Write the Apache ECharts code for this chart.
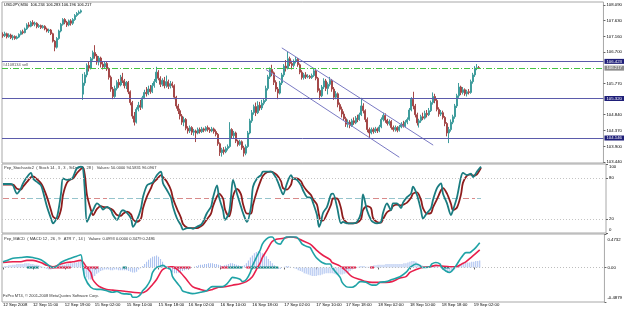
<!DOCTYPE html>
<html><head><meta charset="utf-8">
<script src="https://cdn.jsdelivr.net/npm/echarts@6/dist/echarts.min.js"></script>
<style>html,body{margin:0;padding:0;background:#fff}#c{width:625px;height:310px}</style>
</head><body><div id="c"></div>
<script>
// ---------------- DATA ----------------
const slotCount = 302; // time slots across the plot width (bars + empty right margin)
const timeTickIdx = [0,15,31,46,62,78,93,109,125,141,157,172,188,204,220,236];
const timeTickLabels = ["12 Sep 2008","12 Sep 11:00","12 Sep 19:00","15 Sep 02:00","15 Sep 10:00","15 Sep 18:00","16 Sep 02:00","16 Sep 10:00","16 Sep 18:00","17 Sep 02:00","17 Sep 10:00","17 Sep 18:00","18 Sep 02:00","18 Sep 10:00","18 Sep 18:00","19 Sep 02:00"];
const priceTicks = [108.090,107.630,107.160,106.700,105.770,104.840,104.370,103.900,103.440];
const levelLines = [106.423,105.320,104.146];
const bidPrice = 106.217;
const stochTicks = [0,20,80,100];
const macdTicks = [-0.4879,0,0.4732];
// [open, close, low, high]
const ohlc = [
[107.22,107.18,107.12,107.28],[107.18,107.24,107.14,107.30],[107.24,107.15,107.10,107.27],[107.15,107.20,107.12,107.25],[107.20,107.12,107.08,107.24],
[107.12,107.16,107.05,107.21],[107.16,107.10,107.06,107.19],[107.10,107.14,107.07,107.18],[107.14,107.22,107.11,107.25],[107.22,107.30,107.19,107.34],
[107.30,107.27,107.22,107.36],[107.27,107.38,107.25,107.42],[107.38,107.50,107.35,107.55],[107.50,107.46,107.42,107.58],[107.46,107.57,107.43,107.62],
[107.57,107.52,107.47,107.64],[107.52,107.55,107.46,107.60],[107.55,107.45,107.40,107.58],[107.45,107.48,107.41,107.53],[107.48,107.42,107.38,107.51],
[107.42,107.46,107.39,107.50],[107.46,107.38,107.34,107.49],[107.38,107.32,107.28,107.42],[107.32,107.35,107.26,107.39],[107.35,107.24,107.20,107.38],
[107.24,107.02,106.98,107.27],[107.02,106.84,106.72,107.05],[106.84,107.10,106.80,107.14],[107.10,107.32,107.06,107.36],[107.32,107.52,107.28,107.56],
[107.52,107.66,107.48,107.70],[107.66,107.58,107.52,107.70],[107.58,107.50,107.44,107.62],[107.50,107.62,107.46,107.66],[107.62,107.55,107.48,107.67],
[107.55,107.66,107.50,107.70],[107.66,107.78,107.62,107.82],[107.78,107.84,107.74,107.88],[107.84,107.88,107.80,107.93],[107.88,107.92,107.84,107.96],
[105.45,105.78,105.28,106.05],[105.78,106.02,105.70,106.10],[106.02,106.30,105.95,106.36],[106.30,106.22,106.12,106.42],[106.22,106.50,106.18,106.55],
[106.50,106.68,106.44,106.74],[106.68,106.58,106.50,106.90],[106.58,106.40,106.32,106.64],[106.40,106.52,106.30,106.58],[106.52,106.34,106.24,106.56],
[106.34,106.26,106.18,106.40],[106.26,106.36,106.20,106.42],[106.36,106.20,106.14,106.40],[106.20,105.95,105.88,106.24],[105.95,105.60,105.52,106.00],
[105.60,105.38,105.30,105.66],[105.38,105.62,105.34,105.70],[105.62,105.80,105.56,105.86],[105.80,105.72,105.64,105.90],[105.72,105.95,105.68,106.02],
[105.95,105.85,105.78,106.08],[105.85,105.70,105.62,105.90],[105.70,105.80,105.60,105.84],[105.80,105.52,105.45,105.84],[105.52,105.20,105.12,105.56],
[105.20,104.80,104.72,105.25],[104.80,104.62,104.52,104.92],[104.62,105.00,104.58,105.06],[105.00,105.12,104.94,105.22],[105.12,105.06,104.98,105.28],
[105.06,105.34,105.02,105.40],[105.34,105.50,105.30,105.58],[105.50,105.46,105.38,105.66],[105.46,105.60,105.42,105.70],[105.60,105.52,105.46,105.72],
[105.52,105.70,105.48,105.78],[105.70,105.82,105.64,105.90],[105.82,106.10,105.78,106.26],[106.10,105.92,105.86,106.16],[105.92,105.74,105.66,105.98],
[105.74,105.86,105.68,105.92],[105.86,105.70,105.62,105.96],[105.70,105.82,105.64,106.00],[105.82,105.68,105.60,105.88],[105.68,105.76,105.62,105.84],
[105.76,105.70,105.64,105.82],[105.70,105.36,105.30,105.74],[105.36,105.10,105.02,105.40],[105.10,104.96,104.86,105.16],[104.96,104.80,104.70,105.02],
[104.80,104.62,104.54,104.86],[104.62,104.70,104.50,104.78],[104.70,104.44,104.38,104.74],[104.44,104.36,104.28,104.50],[104.36,104.46,104.30,104.52],
[104.46,104.32,104.24,104.50],[104.32,104.36,104.22,104.42],[104.36,104.30,104.03,104.40],[104.30,104.40,104.26,104.46],[104.40,104.34,104.28,104.46],
[104.34,104.42,104.30,104.48],[104.42,104.38,104.32,104.46],[104.38,104.46,104.34,104.50],[104.46,104.40,104.34,104.52],[104.40,104.36,104.30,104.46],
[104.36,104.42,104.32,104.48],[104.42,104.34,104.28,104.46],[104.34,104.26,104.20,104.40],[104.26,103.98,103.92,104.30],[103.98,103.72,103.62,104.02],
[103.72,103.80,103.60,103.86],[103.80,103.74,103.66,103.88],[103.74,103.84,103.70,103.90],[103.84,103.90,103.78,103.96],[103.90,104.40,103.86,104.62],
[104.40,104.22,104.14,104.44],[104.22,104.30,104.12,104.36],[104.30,104.06,104.00,104.34],[104.06,103.96,103.90,104.10],[103.96,104.04,103.92,104.10],
[104.04,103.86,103.80,104.08],[103.86,103.70,103.60,103.92],[103.70,103.90,103.64,103.96],[103.90,104.30,103.86,104.36],[104.30,104.66,104.26,104.72],
[104.66,104.90,104.60,104.98],[104.90,105.08,104.84,105.14],[105.08,104.90,104.80,105.20],[104.90,105.12,104.86,105.24],[105.12,105.04,104.96,105.22],
[105.04,105.18,104.98,105.28],[105.18,105.26,105.12,105.32],[105.26,105.62,105.22,105.70],[105.62,105.96,105.56,106.02],[105.96,106.18,105.90,106.24],
[106.18,106.08,105.98,106.32],[106.08,105.80,105.72,106.12],[105.80,105.60,105.52,105.86],[105.60,105.48,105.30,105.66],[105.48,105.78,105.44,105.84],
[105.78,106.02,105.72,106.08],[106.02,106.28,105.96,106.34],[106.28,106.22,106.12,106.46],[106.22,106.50,106.18,106.70],[106.50,106.36,106.28,106.56],
[106.36,106.30,106.18,106.44],[106.30,106.42,106.24,106.48],[106.42,106.48,106.36,106.55],[106.48,106.32,106.26,106.52],[106.32,106.10,106.04,106.36],
[106.10,105.94,105.88,106.16],[105.94,106.02,105.88,106.08],[106.02,105.96,105.90,106.10],[105.96,105.98,105.92,106.04],[105.98,105.94,105.90,106.02],
[105.94,106.00,105.90,106.06],[106.00,106.14,105.96,106.22],[106.14,105.92,105.86,106.18],[105.92,105.56,105.50,105.96],[105.56,105.40,105.28,105.62],
[105.40,105.66,105.36,105.72],[105.66,105.84,105.60,105.92],[105.84,105.62,105.54,105.90],[105.62,105.74,105.44,105.80],[105.74,105.86,105.68,105.96],
[105.86,105.60,105.52,105.90],[105.60,105.36,105.28,105.66],[105.36,105.46,105.30,105.54],[105.46,105.14,105.06,105.50],[105.14,105.00,104.94,105.20],
[105.00,104.86,104.76,105.08],[104.86,104.72,104.66,104.94],[104.72,104.56,104.48,104.78],[104.56,104.62,104.46,104.70],[104.62,104.52,104.44,104.68],
[104.52,104.66,104.48,104.72],[104.66,104.60,104.54,104.76],[104.60,104.74,104.56,104.80],[104.74,104.70,104.62,104.84],[104.70,104.84,104.66,104.90],
[104.84,105.10,104.80,105.34],[105.10,104.96,104.88,105.18],[104.96,104.70,104.62,105.00],[104.70,104.40,104.32,104.76],[104.40,104.30,104.15,104.46],
[104.30,104.40,104.26,104.46],[104.40,104.34,104.28,104.46],[104.34,104.42,104.30,104.48],[104.42,104.36,104.30,104.46],[104.36,104.48,104.32,104.54],
[104.48,104.70,104.44,104.76],[104.70,104.82,104.64,104.90],[104.82,104.68,104.60,104.88],[104.68,104.58,104.52,104.72],[104.58,104.64,104.52,104.70],
[104.64,104.46,104.40,104.68],[104.46,104.40,104.34,104.52],[104.40,104.46,104.34,104.52],[104.46,104.38,104.32,104.50],[104.38,104.48,104.34,104.54],
[104.48,104.56,104.44,104.62],[104.56,104.50,104.46,104.66],[104.50,104.62,104.46,104.68],[104.62,104.70,104.56,104.76],[104.70,104.98,104.66,105.04],
[104.98,105.30,104.94,105.36],[105.30,105.10,105.00,105.52],[105.10,104.84,104.76,105.16],[104.84,104.60,104.52,104.90],[104.60,104.66,104.46,104.72],
[104.66,104.78,104.60,104.84],[104.78,104.74,104.68,104.90],[104.74,104.88,104.70,104.96],[104.88,104.84,104.76,104.98],[104.84,104.96,104.80,105.04],
[104.96,105.20,104.92,105.26],[105.20,105.38,105.14,105.50],[105.38,105.26,105.18,105.46],[105.26,105.00,104.94,105.32],[105.00,104.86,104.78,105.06],
[104.86,104.90,104.80,104.98],[104.90,104.76,104.70,104.96],[104.76,104.58,104.50,104.80],[104.58,104.30,104.20,104.62],[104.30,104.40,104.00,104.48],
[104.40,104.62,104.34,104.70],[104.62,104.78,104.56,104.84],[104.78,105.10,104.72,105.16],[105.10,105.40,105.04,105.46],[105.40,105.66,105.34,105.78],
[105.66,105.50,105.42,105.70],[105.50,105.58,105.44,105.66],[105.58,105.46,105.40,105.62],[105.46,105.52,105.38,105.58],[105.52,105.50,105.44,105.60],
[105.50,105.82,105.46,105.88],[105.82,106.02,105.76,106.08],[106.02,106.22,105.96,106.28],[106.22,106.234,106.16,106.34],[106.234,106.217,106.196,106.283]
];
// channel lines [barIndex, price]
const channelUpper = [[140,106.82],[216,103.94]];
const channelLower = [[132,106.18],[199,103.58]];
// stochastic [barIndex, value]
const stochMain = [[0,71],[4,71],[5,69],[7,57],[9,65],[10,72],[12,81],[14,87],[15,79],[17,74],[19,69],[20,60],[22,38],[24,21],[25,14],[27,23],[29,57],[30,79],[32,77],[34,78],[35,81],[37,94],[39,96],[40,94],[41,57],[42,16],[44,29],[45,33],[47,43],[49,38],[50,34],[52,38],[54,33],[55,26],[57,19],[59,31],[60,33],[62,29],[64,21],[65,9],[67,19],[69,36],[70,52],[72,69],[74,72],[75,74],[77,84],[79,89],[80,72],[82,62],[84,51],[85,38],[87,21],[89,11],[90,5],[92,7],[94,7],[95,6],[97,9],[99,12],[100,16],[102,29],[104,38],[105,51],[107,69],[108,52],[110,33],[111,19],[113,29],[114,52],[115,77],[117,57],[119,38],[120,29],[122,16],[124,38],[125,67],[127,79],[129,84],[130,89],[132,89],[134,89],[135,87],[137,77],[139,62],[140,56],[142,72],[144,84],[145,79],[147,77],[149,69],[150,62],[152,52],[154,51],[155,44],[157,26],[158,9],[159,16],[160,29],[162,38],[164,56],[165,57],[167,38],[169,14],[170,16],[172,14],[174,14],[175,14],[177,16],[179,29],[180,56],[182,33],[184,19],[185,16],[187,14],[189,16],[190,29],[192,43],[194,33],[195,43],[197,43],[199,36],[200,44],[202,52],[204,57],[205,67],[207,55],[209,33],[210,21],[212,29],[214,36],[215,48],[217,65],[219,72],[220,57],[222,43],[224,26],[225,33],[227,52],[229,81],[230,87],[232,84],[234,86],[235,81],[237,89],[239,96.1]];
const stochSignal = [[0,70],[4,70],[5,70],[7,64],[9,63],[10,67],[12,74],[14,81],[15,82],[17,78],[19,72],[20,67],[22,52],[24,33],[25,24],[27,20],[29,34],[30,55],[32,73],[34,78],[35,79],[37,87],[39,93],[40,95],[41,82],[42,55],[44,33],[45,26],[47,35],[49,39],[50,38],[52,37],[54,35],[55,33],[57,26],[59,25],[60,28],[62,31],[64,27],[65,20],[67,16],[69,21],[70,36],[72,53],[74,65],[75,72],[77,78],[79,84],[80,81],[82,74],[84,62],[85,50],[87,35],[89,22],[90,13],[92,8],[94,7],[95,7],[97,7],[99,10],[100,12],[102,20],[104,28],[105,39],[107,53],[108,57],[110,50],[111,34],[113,24],[114,33],[115,53],[117,64],[119,56],[120,42],[122,28],[124,28],[125,41],[127,61],[129,77],[130,83],[132,88],[134,89],[135,88],[137,84],[139,75],[140,65],[142,63],[144,70],[145,79],[147,79],[149,75],[150,69],[152,61],[154,55],[155,49],[157,41],[158,26],[159,18],[160,18],[162,28],[164,41],[165,50],[167,50],[169,36],[170,22],[172,15],[174,14],[175,14],[177,15],[179,20],[180,33],[182,39],[184,36],[185,22],[187,16],[189,15],[190,20],[192,30],[194,34],[195,39],[197,41],[199,40],[200,41],[202,44],[204,51],[205,57],[207,59],[209,48],[210,36],[212,28],[214,29],[215,37],[217,49],[219,62],[220,65],[222,57],[224,42],[225,33],[227,37],[229,56],[230,73],[232,83],[234,85],[235,83],[237,85],[239,94.6]];
// stochastic 50-level coloured segments [fromBar, toBar]
const stochMidRed = [[0,11],[41,52],[87,103],[136,148],[185,192],[230,236]];
const stochMidTeal = [[12,40],[53,86],[104,135],[149,184],[193,229],[237,239]];
// MACD [barIndex, value]
const macdMain = [[0,0.08],[2,0.10],[5,0.13],[9,0.14],[12,0.15],[15,0.14],[19,0.11],[22,0.05],[25,0.0],[27,0.02],[29,0.07],[32,0.11],[35,0.14],[37,0.16],[39,0.18],[40,0.02],[41,-0.14],[44,-0.28],[47,-0.31],[49,-0.31],[52,-0.33],[55,-0.35],[57,-0.34],[60,-0.37],[64,-0.38],[65,-0.42],[67,-0.42],[69,-0.38],[70,-0.33],[72,-0.27],[74,-0.17],[75,-0.07],[77,0.0],[79,0.02],[80,0.03],[82,0.0],[84,-0.03],[85,-0.13],[87,-0.21],[89,-0.28],[90,-0.33],[92,-0.35],[95,-0.37],[99,-0.35],[102,-0.33],[104,-0.28],[105,-0.27],[107,-0.27],[110,-0.27],[112,-0.24],[114,-0.17],[115,-0.14],[117,-0.15],[119,-0.17],[120,-0.20],[122,-0.17],[124,-0.07],[125,0.02],[127,0.14],[129,0.25],[130,0.33],[132,0.40],[134,0.43],[135,0.43],[137,0.35],[139,0.33],[140,0.37],[142,0.43],[144,0.43],[145,0.43],[147,0.43],[149,0.37],[150,0.33],[152,0.30],[154,0.28],[155,0.23],[157,0.14],[159,0.09],[160,0.07],[162,0.05],[164,0.05],[165,0.0],[167,-0.07],[169,-0.14],[170,-0.21],[172,-0.27],[174,-0.28],[175,-0.28],[177,-0.25],[179,-0.20],[180,-0.20],[182,-0.21],[184,-0.24],[185,-0.25],[187,-0.25],[189,-0.21],[192,-0.20],[195,-0.17],[199,-0.13],[202,-0.07],[204,0.0],[205,0.02],[207,0.05],[209,0.03],[210,0.0],[212,0.0],[214,0.01],[215,0.05],[217,0.07],[219,0.05],[220,0.0],[222,-0.05],[224,-0.07],[225,-0.05],[227,0.02],[229,0.11],[230,0.15],[232,0.21],[234,0.21],[235,0.23],[237,0.28],[239,0.348]];
const macdSignal = [[0,0.07],[5,0.08],[9,0.08],[12,0.10],[15,0.10],[19,0.07],[22,0.03],[25,0.01],[29,0.05],[32,0.07],[35,0.08],[39,0.10],[40,0.08],[42,0.0],[44,-0.07],[45,-0.17],[47,-0.24],[49,-0.28],[52,-0.31],[55,-0.32],[59,-0.33],[62,-0.34],[65,-0.35],[69,-0.36],[72,-0.33],[75,-0.24],[77,-0.17],[79,-0.07],[80,-0.03],[82,0.0],[84,0.01],[85,0.01],[87,-0.02],[89,-0.07],[92,-0.17],[95,-0.27],[99,-0.31],[102,-0.33],[105,-0.31],[108,-0.28],[112,-0.27],[115,-0.25],[119,-0.23],[122,-0.20],[125,-0.13],[127,-0.03],[129,0.07],[130,0.14],[132,0.23],[134,0.33],[135,0.37],[137,0.40],[140,0.41],[144,0.43],[147,0.42],[150,0.38],[154,0.33],[157,0.25],[160,0.18],[164,0.11],[165,0.07],[169,0.02],[172,-0.05],[175,-0.13],[179,-0.17],[182,-0.20],[185,-0.21],[189,-0.21],[192,-0.21],[195,-0.20],[199,-0.15],[202,-0.13],[204,-0.07],[207,-0.03],[210,0.0],[214,0.01],[217,0.03],[220,0.02],[224,0.01],[227,0.01],[230,0.05],[232,0.08],[235,0.15],[239,0.249]];
const macdHist = [
0.01,0.02,0.02,0.03,0.03,0.04,0.04,0.05,0.05,0.05, 0.05,0.06,0.06,0.06,0.05,0.05,0.04,0.04,0.03,0.02,
0.01,-0.01,-0.02,-0.03,-0.03,-0.02,-0.01,0.01,0.02,0.03, 0.04,0.04,0.05,0.05,0.06,0.06,0.07,0.07,0.08,0.08,
-0.04,-0.10,-0.14,-0.17,-0.17,-0.15,-0.12,-0.09,-0.07,-0.05, -0.04,-0.03,-0.03,-0.03,-0.04,-0.04,-0.03,-0.03,-0.04,-0.04,
-0.04,-0.04,-0.04,-0.05,-0.06,-0.07,-0.07,-0.06,-0.03,-0.01, 0.02,0.05,0.08,0.11,0.13,0.15,0.16,0.17,0.15,0.12,
0.08,0.04,0.0,-0.03,-0.05,-0.07,-0.08,-0.08,-0.07,-0.06, -0.05,-0.04,-0.03,-0.02,-0.01,0.0,0.01,0.02,0.03,0.04,
0.04,0.05,0.05,0.06,0.06,0.06,0.05,0.05,0.04,0.03, 0.02,0.03,0.04,0.05,0.06,0.06,0.05,0.04,0.03,0.02,
0.02,0.03,0.06,0.10,0.14,0.17,0.20,0.22,0.23,0.22, 0.20,0.18,0.16,0.12,0.09,0.06,0.03,0.0,-0.02,-0.02,
0.0,0.01,0.02,0.02,0.01,0.0,-0.01,-0.02,-0.04,-0.05, -0.06,-0.08,-0.09,-0.10,-0.11,-0.12,-0.12,-0.12,-0.11,-0.11,
-0.10,-0.09,-0.08,-0.08,-0.08,-0.08,-0.09,-0.10,-0.10,-0.10, -0.10,-0.09,-0.08,-0.07,-0.05,-0.03,-0.01,0.0,0.01,0.02,
0.02,0.02,0.01,0.01,0.01,0.02,0.03,0.03,0.04,0.04, 0.04,0.04,0.05,0.05,0.05,0.05,0.05,0.05,0.05,0.05,
0.05,0.06,0.06,0.07,0.08,0.09,0.09,0.08,0.06,0.04, 0.03,0.02,0.01,0.01,0.02,0.02,0.03,0.03,0.02,0.0,
-0.02,-0.04,-0.06,-0.07,-0.07,-0.06,-0.04,-0.01,0.02,0.04, 0.05,0.06,0.07,0.07,0.07,0.08,0.08,0.09,0.09,0.0993
];
// MACD zero-line coloured segments [fromBar, toBar]
const macdZeroRed = [[23,34],[40,48],[85,94],[109,113],[122,124],[170,177],[184,186]];
const macdZeroTeal = [[12,18],[60,62],[113,120],[124,138],[220,224]];

const titleMain = "USDJPY,M30  106.234 106.283 106.196 106.217";
const orderLabel = "#4108134 sell";
const stochTitle = "Pep_Stochastic2  ( Stoch 14 , 3 , 3 , StDev 7 , 28 )   Values: 50.0000 94.5831 96.0967";
const macdTitle = "Pep_MACD  ( MACD 12 , 26 , 9   ATR 7 , 14 )   Values: 0.0993 0.0000 0.3479 0.2486";
const copyright = "FxPro MT4, © 2001-2008 MetaQuotes Software Corp.";

// ---------------- CHART ----------------
const FONT = 'Liberation Sans, Arial, sans-serif';
const FS = 4.3;
const categories = [];
for (let i = 0; i < slotCount; i++) categories.push(String(i));
const tickSet = new Set(timeTickIdx);
function segData(segs, level) {
  const out = [];
  segs.forEach(s => { out.push([s[0], level]); out.push([s[1], level]); out.push([s[1], null]); });
  return out;
}
function edgeRich(min, max, fmt, padTop, padBot) {
  return {
    formatter: v => {
      const t = fmt(v);
      if (Math.abs(v - max) < 1e-9) return '{t|' + t + '}';
      if (Math.abs(v - min) < 1e-9) return '{b|' + t + '}';
      return t;
    },
    rich: { t: {padding: [padTop,0,0,0], fontSize: FS, fontFamily: FONT, color:'#000'},
            b: {padding: [0,0,padBot,0], fontSize: FS, fontFamily: FONT, color:'#000'} }
  };
}
const gridBase = {left: 2, right: 19, show: true, borderColor: '#a8a8a8', borderWidth: 1, backgroundColor: '#fff'};
const hiddenX = i => ({type:'category', gridIndex:i, data: categories, boundaryGap: true,
  axisLine:{show:false}, axisTick:{show:false}, axisLabel:{show:false}, splitLine:{show:false}});
const yLabelBase = {fontSize: FS, fontFamily: FONT, color: '#000', margin: 3};

const stochLabel = Object.assign({}, yLabelBase, edgeRich(0, 100, v => String(v), 6, 6), {customValues: stochTicks});
const macdLabel = Object.assign({}, yLabelBase, edgeRich(-0.4879, 0.4732, v => v === 0 ? '0.00' : v.toFixed(4), 12, 8), {customValues: macdTicks});

const chart = echarts.init(document.getElementById('c'), null, {renderer: 'canvas'});
chart.setOption({
  animation: false,
  backgroundColor: '#fff',
  textStyle: {fontFamily: FONT},
  grid: [
    Object.assign({}, gridBase, {top: 2, height: 161}),
    Object.assign({}, gridBase, {top: 164, height: 69}),
    Object.assign({}, gridBase, {top: 234, height: 68})
  ],
  xAxis: [hiddenX(0), hiddenX(1), {
    type:'category', gridIndex:2, data: categories, boundaryGap: true,
    axisLine:{show:false},
    axisTick:{show:true, alignWithLabel:true, interval: (i) => tickSet.has(i), length: 2, lineStyle:{color:'#666'}},
    axisLabel:{show:true, interval: (i) => tickSet.has(i), align:'left', margin: 1, fontSize: FS, fontFamily: FONT, color:'#000',
      formatter: (v, i) => { const k = timeTickIdx.indexOf(Number(v)); return k >= 0 ? timeTickLabels[k] : ''; }},
    splitLine:{show:false}
  }],
  yAxis: [
    {type:'value', gridIndex:0, position:'right', min: 103.41, max: 108.179, scale: true,
      axisLine:{show:false}, splitLine:{show:false},
      axisTick:{show:true, customValues: priceTicks, length: 2, lineStyle:{color:'#666'}},
      axisLabel: Object.assign({}, yLabelBase, {customValues: priceTicks, formatter: v => v.toFixed(3)})},
    {type:'value', gridIndex:1, position:'right', min: 0, max: 100,
      axisLine:{show:false}, splitLine:{show:false},
      axisTick:{show:true, customValues: stochTicks, length: 2, lineStyle:{color:'#666'}},
      axisLabel: stochLabel},
    {type:'value', gridIndex:2, position:'right', min: -0.4879, max: 0.4732,
      axisLine:{show:false}, splitLine:{show:false},
      axisTick:{show:true, customValues: macdTicks, length: 2, lineStyle:{color:'#666'}},
      axisLabel: macdLabel}
  ],
  series: [
    {type:'candlestick', xAxisIndex:0, yAxisIndex:0, data: ohlc, barWidth: 1.5,
      itemStyle:{color:'#3f9c9c', color0:'#a44848', borderColor:'#3f9c9c', borderColor0:'#a44848', borderWidth: 1},
      markLine: {symbol:'none', silent:true, animation:false,
        data: levelLines.map(v => ({yAxis: v, lineStyle:{color:'#5b5bab', width:1, type:'solid'},
          label:{show:true, position:'end', distance: 1, formatter: () => v.toFixed(3), backgroundColor:'#1e1e78', color:'#fff', fontSize: FS, fontFamily: FONT, padding:[1,2,0,2]}}))
          .concat([{yAxis: bidPrice, lineStyle:{color:'#44c244', width:1, type:[6,2,1,2]},
          label:{show:true, position:'end', distance: 1, formatter: () => bidPrice.toFixed(3), backgroundColor:'#8c8c8c', color:'#fff', fontSize: FS, fontFamily: FONT, padding:[1,2,0,2]}}])
      }},
    {type:'line', xAxisIndex:0, yAxisIndex:0, data: channelUpper, symbol:'none', lineStyle:{color:'#7a7ac4', width:1}, silent:true},
    {type:'line', xAxisIndex:0, yAxisIndex:0, data: channelLower, symbol:'none', lineStyle:{color:'#7a7ac4', width:1}, silent:true},
    // stochastic
    {type:'line', xAxisIndex:1, yAxisIndex:1, data: segData(stochMidRed, 50), symbol:'none', connectNulls:false,
      lineStyle:{color:'#d88a8a', width:1.2, type:[6,3]}, silent:true,
      markLine:{symbol:'none', silent:true, label:{show:false}, lineStyle:{color:'#c4c4c4', width:1, type:[1,2]}, data:[{yAxis:80},{yAxis:20}]}},
    {type:'line', xAxisIndex:1, yAxisIndex:1, data: segData(stochMidTeal, 50), symbol:'none', connectNulls:false,
      lineStyle:{color:'#96c4cc', width:1.2, type:[6,3]}, silent:true},
    {type:'line', xAxisIndex:1, yAxisIndex:1, data: stochSignal, symbol:'none', smooth:0.3, lineStyle:{color:'#8e1c1c', width:1.8}, silent:true},
    {type:'line', xAxisIndex:1, yAxisIndex:1, data: stochMain, symbol:'none', smooth:0.3, lineStyle:{color:'#1a7c80', width:1.8}, silent:true},
    // MACD
    {type:'bar', xAxisIndex:2, yAxisIndex:2, data: macdHist, barWidth: 1, itemStyle:{color:'#a6bdee'}, silent:true,
      markLine:{symbol:'none', silent:true, label:{show:false}, lineStyle:{color:'#bdbdbd', width:1, type:[1,2]}, data:[{yAxis:0}]}},
    {type:'line', xAxisIndex:2, yAxisIndex:2, data: segData(macdZeroRed, 0), symbol:'none', connectNulls:false, lineStyle:{color:'#e0284e', width:2.2}, silent:true},
    {type:'line', xAxisIndex:2, yAxisIndex:2, data: segData(macdZeroTeal, 0), symbol:'none', connectNulls:false, lineStyle:{color:'#168a88', width:2.2}, silent:true},
    {type:'line', xAxisIndex:2, yAxisIndex:2, data: macdSignal, symbol:'none', smooth:0.3, lineStyle:{color:'#e8204c', width:1.6}, silent:true},
    {type:'line', xAxisIndex:2, yAxisIndex:2, data: macdMain, symbol:'none', smooth:0.3, lineStyle:{color:'#1fa3a6', width:1.6}, silent:true}
  ],
  graphic: [
    {type:'text', left: 4, top: 3, silent:true, style:{text: titleMain, fill:'#000', font: '4px ' + FONT}},
    {type:'text', left: 3, top: 63, silent:true, style:{text: orderLabel, fill:'#555', font: '4px ' + FONT}},
    {type:'text', left: 4, top: 166, silent:true, style:{text: stochTitle, fill:'#333', font: '4px ' + FONT}},
    {type:'text', left: 4, top: 237, silent:true, style:{text: macdTitle, fill:'#333', font: '4px ' + FONT}},
    {type:'text', left: 3, top: 294, silent:true, style:{text: copyright, fill:'#333', font: '4px ' + FONT}}
  ]
});
</script>
</body></html>
